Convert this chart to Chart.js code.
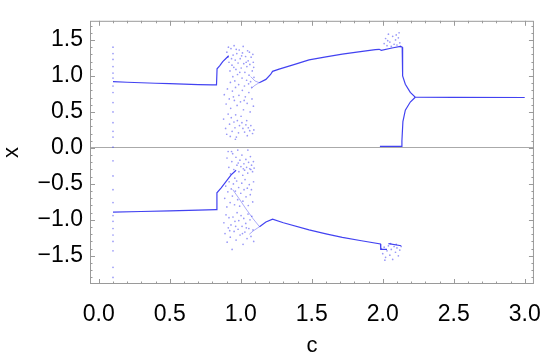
<!DOCTYPE html>
<html lang="en"><head><meta charset="UTF-8">
<title>Bifurcation diagram</title>
<script src="https://cdn.jsdelivr.net/npm/chart.js@4.4.1/dist/chart.umd.min.js"></script>
<style>
*{margin:0;padding:0;}
body{background:#fff;width:550px;height:358px;overflow:hidden;}
</style></head>
<body><canvas id="c" width="550" height="358"></canvas>
<script>
// ── data: [c, x] pairs ───────────────────────────────────────────
const xTicks = [0, 0.5, 1, 1.5, 2, 2.5, 3];
const yTicks = [-1.5, -1, -0.5, 0, 0.5, 1, 1.5];

const upperLeft = [[0.10,0.92],[0.2,0.912],[0.3,0.905],[0.4,0.898],[0.5,0.892],[0.6,0.886],[0.7,0.88],[0.8,0.875],[0.829,0.876],[0.833,1.10],[0.851,1.14],[0.873,1.20],[0.897,1.245],[0.915,1.28]];
const lowerLeft = [[0.10,-0.893],[0.3,-0.884],[0.5,-0.874],[0.7,-0.865],[0.827,-0.857],[0.832,-0.623],[0.862,-0.555],[0.897,-0.466],[0.932,-0.375],[0.967,-0.31]];
const upperRight = [[1.13,0.906],[1.177,0.952],[1.21,1.02],[1.224,1.064],[1.27,1.095],[1.38,1.16],[1.481,1.222],[1.6,1.265],[1.715,1.303],[1.83,1.335],[1.948,1.365],[1.975,1.37],[1.99,1.356],[2.065,1.388],[2.124,1.41],[2.137,1.40],[2.14,1.0],[2.159,0.885],[2.194,0.771],[2.229,0.704],[2.5,0.702],[3.0,0.70]];
const forkLower = [[1.98,0.02],[2.13,0.02],[2.135,0.10],[2.142,0.366],[2.159,0.524],[2.194,0.637],[2.229,0.704]];
const lowerRight = [[1.132,-1.095],[1.177,-1.03],[1.224,-0.99],[1.30,-1.04],[1.481,-1.14],[1.6,-1.195],[1.715,-1.244],[1.85,-1.29],[1.984,-1.334],[1.986,-1.41],[2.03,-1.41]];
const lowerRight2 = [[2.04,-1.33],[2.13,-1.36]];
const strandUpA = [[1.07,0.99],[1.10,0.93],[1.13,0.906]];
const strandUpB = [[1.075,0.83],[1.10,0.87],[1.13,0.906]];
const strandLoA = [[0.943,-0.578],[0.99,-0.71],[1.037,-0.848],[1.085,-0.98],[1.132,-1.095]];
const strandLoB = [[1.06,-1.20],[1.09,-1.15],[1.132,-1.095]];

const columnPts = [[0.1,1.40],[0.1,1.31],[0.1,1.23],[0.1,1.13],[0.1,1.04],[0.1,0.97],[0.1,0.86],[0.1,0.77],[0.1,0.63],[0.1,0.50],[0.1,0.35],[0.1,0.23],[0.1,0.15],[0.1,0.01],[0.1,-0.18],[0.1,-0.39],[0.1,-0.58],[0.1,-0.76],[0.1,-0.94],[0.1,-1.02],[0.1,-1.12],[0.1,-1.21],[0.1,-1.30],[0.1,-1.43],[0.1,-1.66],[0.1,-1.80]];

const upperCloud = [
[0.902,1.33],[0.917,1.19],[0.909,1.26],[0.931,1.38],[0.924,1.07],[0.946,1.29],[0.938,1.15],[0.953,1.42],[0.961,1.22],[0.944,0.99],[0.972,1.31],[0.966,1.09],[0.981,1.18],[0.958,0.93],[0.989,1.36],[0.977,1.02],[0.996,1.24],[1.003,1.11],[0.985,0.88],[1.012,1.32],[1.009,0.97],[1.021,1.17],[1.017,1.41],[1.029,1.05],[1.034,1.27],[1.026,0.86],[1.043,1.13],[1.041,0.94],[1.052,1.21],[1.048,1.35],[1.058,1.01],[1.064,1.16],[1.069,0.92],[1.073,1.26],[1.081,1.07],[1.077,0.84],[1.088,1.19],[1.093,0.98],[1.085,1.30],[0.913,1.40],[0.935,1.24],[0.968,1.37],[0.993,1.05],[1.038,1.19],[1.061,1.33],[0.927,0.91],[0.951,1.12],[1.006,1.28],[1.055,0.89],[1.091,1.12],
[0.884,0.74],[0.897,0.61],[0.906,0.82],[0.919,0.68],[0.929,0.55],[0.941,0.79],[0.955,0.66],[0.963,0.84],[0.974,0.59],[0.987,0.73],[0.998,0.64],[1.011,0.80],[1.019,0.53],[1.032,0.71],[1.045,0.62],[1.057,0.77],[1.066,0.50],[1.079,0.68],[1.089,0.58],[0.948,0.71],[1.024,0.66],
[0.879,0.40],[0.893,0.27],[0.911,0.47],[0.901,0.19],[0.921,0.33],[0.933,0.42],[0.939,0.23],[0.952,0.36],[0.964,0.46],[0.959,0.28],[0.976,0.38],[0.984,0.21],[0.991,0.31],[1.002,0.44],[1.015,0.27],[1.008,0.35],[1.027,0.22],[1.036,0.32],[1.046,0.17],[1.053,0.28],[1.063,0.24],[1.071,0.31],[1.083,0.20],[1.092,0.25],[0.926,0.16],[0.969,0.15],[1.042,0.38],
[0.935,-0.05],[1.050,-0.03],[0.962,0.12]];

const lowerCloud = [
[0.903,-0.14],[0.916,-0.27],[0.911,-0.05],[0.928,-0.36],[0.937,-0.19],[0.943,-0.08],[0.951,-0.30],[0.958,-0.42],[0.966,-0.13],[0.973,-0.24],[0.979,-0.03],[0.987,-0.33],[0.994,-0.17],[1.001,-0.26],[1.008,-0.10],[1.014,-0.38],[1.022,-0.22],[1.027,-0.31],[1.036,-0.16],[1.041,-0.27],[1.049,-0.35],[1.055,-0.20],[1.063,-0.29],[1.068,-0.12],[1.076,-0.24],[1.083,-0.33],[1.089,-0.19],[1.094,-0.28],[1.071,-0.30],[1.018,-0.29],[0.982,-0.21],
[0.887,-0.70],[0.894,-0.53],[0.902,-0.82],[0.909,-0.61],[0.918,-0.47],[0.925,-0.76],[0.933,-0.57],[0.941,-0.67],[0.948,-0.50],[0.956,-0.79],[0.962,-0.60],[0.971,-0.46],[0.978,-0.72],[0.985,-0.55],[0.992,-0.81],[1.000,-0.63],[1.007,-0.49],[1.015,-0.74],[1.023,-0.58],[1.030,-0.44],[1.037,-0.68],[1.046,-0.56],[1.053,-0.80],[1.060,-0.51],[1.067,-0.65],[1.075,-0.58],[1.084,-0.75],[1.090,-0.47],
[0.881,-1.04],[0.889,-1.19],[0.896,-0.93],[0.904,-1.31],[0.912,-1.11],[0.917,-0.97],[0.926,-1.24],[0.931,-1.07],[0.939,-1.41],[0.945,-0.96],[0.953,-1.16],[0.959,-1.02],[0.967,-1.28],[0.974,-0.90],[0.981,-1.13],[0.986,-1.01],[0.995,-1.21],[1.002,-0.94],[1.009,-1.09],[1.016,-1.34],[1.021,-0.98],[1.029,-1.17],[1.035,-1.05],[1.044,-1.26],[1.051,-0.92],[1.057,-1.12],[1.065,-1.00],[1.072,-1.23],[1.078,-0.95],[1.086,-1.14],[1.091,-1.30],[0.964,-1.09],[1.012,-1.19],[1.039,-1.11],[0.922,-1.15]];

const upperCloud2 = [[2.01,1.45],[2.02,1.52],[2.03,1.42],[2.04,1.58],[2.05,1.47],[2.06,1.41],[2.07,1.55],[2.08,1.44],[2.09,1.50],[2.10,1.43],[2.11,1.53],[2.12,1.46],[2.125,1.41],[2.115,1.60],[2.035,1.49],[2.095,1.57]];
const lowerCloud2 = [[1.99,-1.40],[2.00,-1.47],[2.01,-1.38],[2.02,-1.52],[2.03,-1.43],[2.04,-1.36],[2.05,-1.49],[2.06,-1.41],[2.07,-1.55],[2.08,-1.37],[2.09,-1.45],[2.10,-1.39],[2.11,-1.50],[2.12,-1.42],[2.13,-1.37],[2.015,-1.56],[2.055,-1.33],[2.095,-1.34]];

// ── styling ──────────────────────────────────────────────────────
const LINE = 'rgba(45,45,240,0.9)';
const STRAND = 'rgba(70,70,240,0.5)';
const DOT = 'rgba(70,70,240,0.55)';
const FONT = '"Liberation Sans", Arial, Helvetica, sans-serif';
const pts = a => a.map(p => ({x: p[0], y: p[1]}));
const lineSet = (a, col = LINE, w = 1.2) => ({type: 'line', data: pts(a), borderColor: col, borderWidth: w, pointRadius: 0, tension: 0, fill: false});
const dotSet = a => ({type: 'scatter', data: pts(a), backgroundColor: DOT, pointRadius: 0.85, pointBorderWidth: 0, pointHoverRadius: 0});
const fmt = v => (v < 0 ? '\u2212' : '') + Math.abs(v).toFixed(1);

// frame with inward major/minor ticks on all four sides
const frameTicks = {
  id: 'frameTicks',
  afterDraw(chart) {
    const {ctx, chartArea: a, scales: {x, y}} = chart;
    ctx.save();
    ctx.strokeStyle = '#9a9a9a';
    ctx.lineWidth = 1;
    ctx.strokeRect(a.left + 0.5, a.top + 0.5, a.right - a.left - 1, a.bottom - a.top - 1);
    ctx.beginPath();
    for (let i = 0; i <= 30; i++) {
      const len = i % 5 === 0 ? 5 : 2.5;
      const px = Math.round(x.getPixelForValue(i / 10)) + 0.5;
      ctx.moveTo(px, a.bottom); ctx.lineTo(px, a.bottom - len);
      ctx.moveTo(px, a.top); ctx.lineTo(px, a.top + len);
    }
    for (let i = -18; i <= 17; i++) {
      const len = i % 5 === 0 ? 5 : 2.5;
      const py = Math.round(y.getPixelForValue(i / 10)) + 0.5;
      ctx.moveTo(a.left, py); ctx.lineTo(a.left + len, py);
      ctx.moveTo(a.right, py); ctx.lineTo(a.right - len, py);
    }
    ctx.stroke();
    ctx.restore();
  }
};

new Chart(document.getElementById('c'), {
  data: {
    datasets: [
      lineSet(upperLeft), lineSet(lowerLeft), lineSet(upperRight), lineSet(forkLower),
      lineSet(lowerRight), lineSet(lowerRight2),
      lineSet(strandUpA, STRAND, 0.9), lineSet(strandUpB, STRAND, 0.9),
      lineSet(strandLoA, STRAND, 0.9), lineSet(strandLoB, STRAND, 0.9),
      dotSet(columnPts), dotSet(upperCloud), dotSet(lowerCloud), dotSet(upperCloud2), dotSet(lowerCloud2)
    ]
  },
  options: {
    responsive: false,
    animation: false,
    devicePixelRatio: 1,
    layout: {padding: {left: 0, right: 14, top: 13, bottom: 0}},
    plugins: {legend: {display: false}, tooltip: {enabled: false}},
    scales: {
      x: {
        type: 'linear', min: -0.062, max: 3.065,
        afterBuildTicks: s => { s.ticks = xTicks.map(v => ({value: v})); },
        afterFit: s => { s.height = 74; },
        grid: {display: false}, border: {display: false},
        ticks: {font: {family: FONT, size: 23}, color: '#000', padding: 9, callback: fmt, maxRotation: 0},
        title: {display: true, text: 'c', font: {family: FONT, size: 22, lineHeight: 1}, color: '#000', padding: {top: 0, bottom: 1.5}}
      },
      y: {
        type: 'linear', min: -1.891, max: 1.766,
        afterBuildTicks: s => { s.ticks = yTicks.map(v => ({value: v})); },
        afterFit: s => { s.width = 90; },
        grid: {drawTicks: false, color: c => c.tick && c.tick.value === 0 ? '#aaaaaa' : 'rgba(0,0,0,0)'},
        border: {display: false},
        ticks: {font: {family: FONT, size: 23}, color: '#000', padding: 7, callback: fmt},
        title: {display: true, text: 'x', font: {family: FONT, size: 22, lineHeight: 1}, color: '#000', padding: {top: 0.5, bottom: 0}}
      }
    }
  },
  plugins: [frameTicks]
});
</script>
</body></html>
